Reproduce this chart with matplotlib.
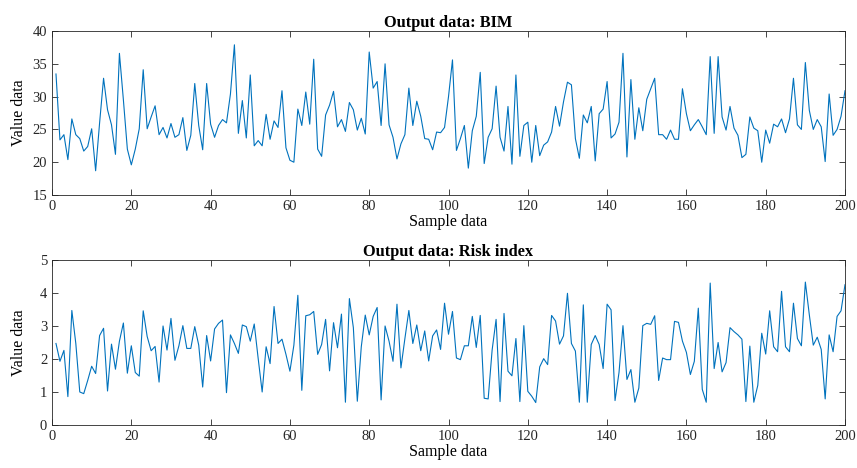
import matplotlib.pyplot as plt
import numpy as np

# sample index 1..200
samples = np.arange(1, 201)

bim_values = [
    33.45, 23.4, 24.2, 20.4, 26.6, 24.2, 23.6, 21.7, 22.4, 25.1,
    18.7, 26.0, 32.8, 28.0, 25.7, 21.2, 36.6, 29.5, 22.0, 19.6,
    22.0, 25.1, 34.1, 25.1, 26.9, 28.6, 24.2, 25.3, 23.7, 25.9,
    23.8, 24.2, 26.8, 21.8, 24.1, 32.0, 25.6, 21.9, 32.0, 25.8,
    23.8, 25.6, 26.5, 26.0, 30.4, 37.9, 24.4, 29.4, 23.7, 33.3,
    22.5, 23.3, 22.5, 27.3, 23.5, 26.3, 25.3, 30.9, 22.2, 20.3,
    20.0, 28.1, 25.6, 30.7, 25.8, 35.7, 22.0, 20.9, 27.2, 28.7,
    30.8, 25.4, 26.5, 24.7, 29.1, 28.0, 24.9, 26.7, 24.3, 36.8,
    31.3, 32.3, 25.6, 35.0, 25.7, 23.8, 20.5, 22.8, 24.2, 31.3,
    25.6, 29.3, 27.0, 23.6, 23.5, 21.9, 24.6, 24.5, 25.3, 30.0,
    35.6, 21.8, 23.6, 25.6, 19.1, 24.8, 27.0, 33.7, 19.8, 23.8,
    25.1, 31.6, 23.8, 21.7, 28.5, 19.7, 33.3, 20.9, 25.6, 26.1,
    20.0, 25.6, 21.0, 22.6, 23.1, 24.6, 28.5, 25.5, 29.2, 32.2,
    31.8, 23.6, 20.6, 27.2, 26.0, 28.5, 20.2, 27.4, 28.1, 32.3,
    23.7, 24.3, 26.1, 36.6, 20.8, 32.6, 23.5, 28.3, 24.8, 29.6,
    31.2, 32.8, 24.2, 24.2, 23.5, 24.9, 23.5, 23.5, 31.2, 27.4,
    24.8, 25.7, 26.5, 25.4, 24.2, 36.1, 24.4, 36.1, 26.9, 24.9,
    28.5, 25.2, 24.1, 20.7, 21.2, 26.9, 25.2, 24.8, 20.0, 24.9,
    22.9, 25.8, 25.4, 26.6, 24.5, 26.6, 32.8, 25.7, 25.0, 35.2,
    27.9, 25.0, 26.5, 25.4, 20.1, 30.4, 24.1, 25.0, 27.0, 30.9,
]

risk_values = [
    2.47, 1.93, 2.26, 0.86, 3.47, 2.47, 1.00, 0.95, 1.35, 1.78,
    1.56, 2.71, 2.93, 1.03, 2.45, 1.69, 2.54, 3.09, 1.57, 2.40,
    1.59, 1.48, 3.46, 2.68, 2.25, 2.38, 1.30, 3.00, 2.27, 3.23,
    1.96, 2.40, 3.01, 2.32, 2.32, 2.98, 2.42, 1.15, 2.71, 1.94,
    2.91, 3.08, 3.18, 0.98, 2.73, 2.47, 2.17, 3.03, 2.98, 2.54,
    3.06, 2.01, 1.00, 2.37, 1.86, 3.59, 2.47, 2.60, 2.14, 1.63,
    2.42, 3.93, 1.05, 3.31, 3.34, 3.44, 2.14, 2.44, 3.20, 1.64,
    3.10, 2.34, 3.36, 0.69, 3.83, 2.95, 0.72, 2.37, 3.33, 2.73,
    3.29, 3.56, 0.76, 3.00, 2.54, 1.93, 3.66, 1.73, 2.62, 3.47,
    2.47, 3.03, 2.25, 2.85, 1.94, 2.70, 2.88, 2.29, 3.69, 2.75,
    3.44, 2.03, 1.98, 2.40, 2.40, 3.29, 2.35, 3.32, 0.81, 0.79,
    2.27, 3.20, 0.71, 3.38, 1.63, 1.49, 2.62, 0.71, 3.01, 1.02,
    0.87, 0.68, 1.76, 2.01, 1.83, 3.32, 3.15, 2.45, 2.70, 3.99,
    2.47, 2.24, 0.69, 3.64, 0.69, 2.44, 2.71, 2.44, 1.71, 3.66,
    3.49, 0.74, 1.59, 3.01, 1.38, 1.68, 0.69, 1.12, 3.01, 3.08,
    3.05, 3.31, 1.35, 2.03, 1.98, 1.98, 3.14, 3.11, 2.54, 2.20,
    1.53, 1.93, 3.54, 1.08, 0.69, 4.30, 1.71, 2.50, 1.61, 1.89,
    2.95, 2.83, 2.73, 2.60, 0.71, 2.39, 0.69, 1.20, 2.78, 2.15,
    3.46, 2.37, 2.22, 4.05, 2.37, 2.22, 3.69, 2.62, 2.40, 4.33,
    3.34, 2.42, 2.66, 2.29, 0.79, 2.73, 2.22, 3.29, 3.46, 4.25,
]

titles = ['Output data: BIM', 'Output data: Risk index']
y_ticks = [np.arange(15, 41, 5), np.arange(0, 6, 1)]
x_ticks = np.arange(0, 201, 20)

plt.rcParams['font.family'] = ['Liberation Serif', 'DejaVu Serif']
line_color = '#0072BD'
axis_color = '#262626'

fig = plt.figure(figsize=(8.57, 4.68), dpi=100)
ax_top = fig.add_axes([0.0607, 0.5833, 0.9253, 0.3504])
ax_bot = fig.add_axes([0.0607, 0.0919, 0.9253, 0.3526])

for ax, values, title, yt in zip([ax_top, ax_bot], [bim_values, risk_values], titles, y_ticks):
    ax.plot(samples, values, color=line_color, linewidth=0.8)
    ax.set_xlim(0, 200)
    ax.set_ylim(yt[0], yt[-1])
    ax.set_xticks(x_ticks)
    ax.set_yticks(yt)
    ax.set_title(title, fontsize=11.8, fontweight='bold', pad=3)
    ax.set_xlabel('Sample data', fontsize=11.5, labelpad=1)
    ax.set_ylabel('Value data', fontsize=11.5)
    ax.yaxis.set_label_coords(-0.031, 0.5)
    ax.tick_params(direction='in', top=True, right=True, labelsize=10.5,
                   length=4, width=0.6, colors=axis_color)
    for spine in ax.spines.values():
        spine.set_color(axis_color)
        spine.set_linewidth(0.6)

fig.savefig('out.png', dpi=100)
plt.close()
